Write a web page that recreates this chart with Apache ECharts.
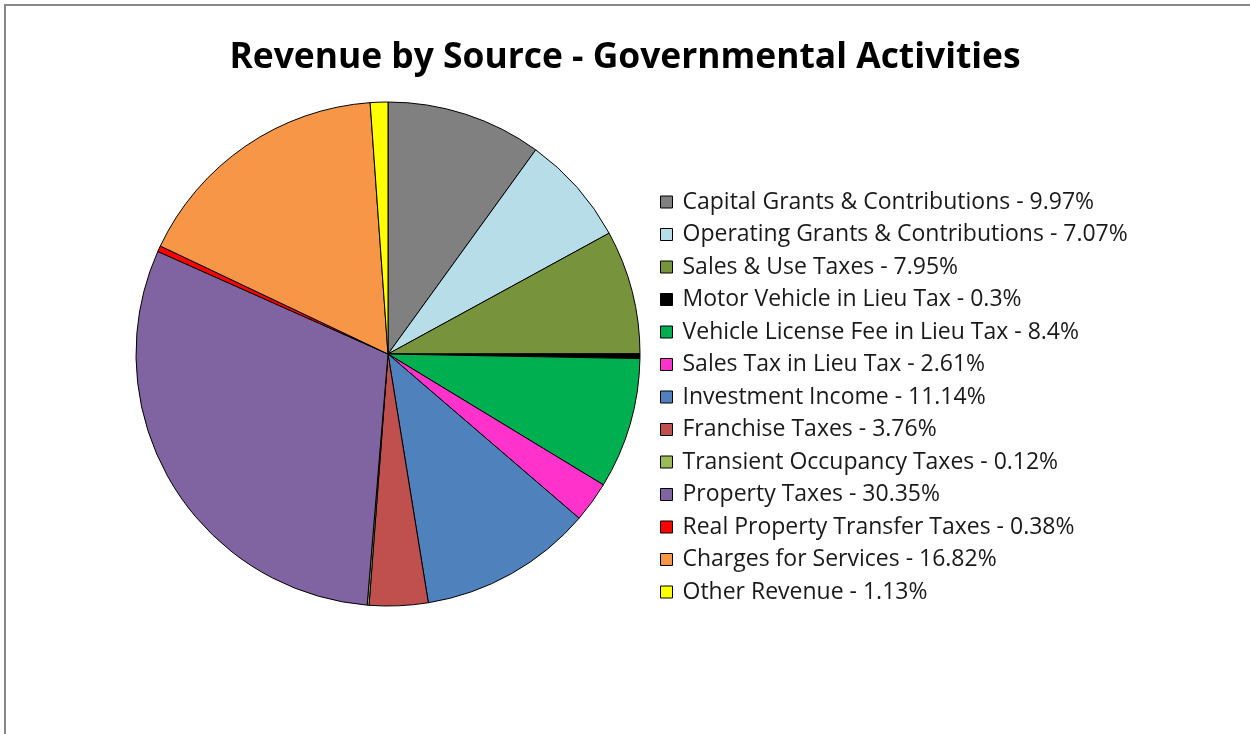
<!DOCTYPE html>
<html>
<head>
<meta charset="utf-8">
<title>Revenue by Source - Governmental Activities</title>
<script src="https://cdn.jsdelivr.net/npm/echarts@6/dist/echarts.min.js"></script>
<style>
  html, body { margin: 0; padding: 0; background: #fff; }
  #chart { width: 1250px; height: 734px; }
</style>
</head>
<body>
<div id="chart"></div>
<script>
// Revenue sources (percent of total), in the order they run clockwise from 12 o'clock
const categories = [
  'Capital Grants & Contributions',
  'Operating Grants & Contributions',
  'Sales & Use Taxes',
  'Motor Vehicle in Lieu Tax',
  'Vehicle License Fee in Lieu Tax',
  'Sales Tax in Lieu Tax',
  'Investment Income',
  'Franchise Taxes',
  'Transient Occupancy Taxes',
  'Property Taxes',
  'Real Property Transfer Taxes',
  'Charges for Services',
  'Other Revenue'
];
const percents = [9.97, 7.07, 7.95, 0.3, 8.4, 2.61, 11.14, 3.76, 0.12, 30.35, 0.38, 16.82, 1.13];
const sliceColors = [
  '#808080', '#B7DEE8', '#77933C', '#000000', '#00B050', '#FF33CC', '#4F81BD',
  '#C0504D', '#9BBB59', '#8064A2', '#FF0000', '#F79646', '#FFFF00'
];

const pieData = categories.map((name, i) => ({
  name: name,
  value: percents[i],
  itemStyle: { color: sliceColors[i] }
}));
const valueByName = {};
categories.forEach((n, i) => { valueByName[n] = percents[i]; });

const chart = echarts.init(document.getElementById('chart'), null, { renderer: 'canvas' });
chart.setOption({
  backgroundColor: '#ffffff',
  animation: false,
  title: {
    text: 'Revenue by Source - Governmental Activities',
    left: 'center',
    top: 35,
    textStyle: {
      fontFamily: 'Open Sans',
      fontWeight: 'bold',
      fontSize: 35.4,
      color: '#000000'
    }
  },
  legend: {
    orient: 'vertical',
    left: 660,
    top: 189,
    padding: 0,
    itemWidth: 12,
    itemHeight: 12,
    itemGap: 6.5,
    icon: 'rect',
    selectedMode: false,
    itemStyle: { borderColor: '#000', borderWidth: 1 },
    formatter: name => name + ' - ' + valueByName[name] + '%',
    textStyle: {
      fontFamily: 'Open Sans',
      fontSize: 23,
      lineHeight: 26,
      color: '#1a1a1a',
      padding: [0, 0, 0, 5]
    }
  },
  graphic: [{
    type: 'rect',
    shape: { x: 5, y: 5, width: 1400, height: 900 },
    style: { fill: 'none', stroke: '#888888', lineWidth: 2 },
    silent: true
  }],
  series: [{
    type: 'pie',
    center: [388, 354],
    radius: 252,
    startAngle: 90,
    clockwise: true,
    avoidLabelOverlap: false,
    label: { show: false },
    labelLine: { show: false },
    emphasis: { disabled: true },
    itemStyle: { borderColor: '#000000', borderWidth: 1 },
    data: pieData
  }]
});
</script>
</body>
</html>
